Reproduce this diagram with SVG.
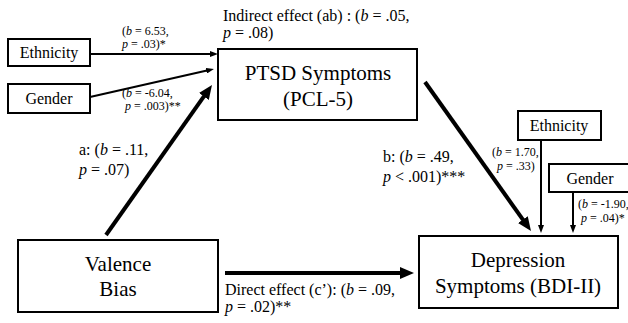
<svg xmlns="http://www.w3.org/2000/svg" width="628" height="323" viewBox="0 0 628 323" font-family="'Liberation Serif', 'Times New Roman', 'DejaVu Serif', serif">
<style>
text{font-family:'Liberation Serif','Times New Roman','DejaVu Serif',serif;fill:#000}
.box{fill:#fff;stroke:#000;stroke-width:2}
.big{font-size:21px}
.mid{font-size:16px}
.sm{font-size:12px}
.i{font-style:italic}
.thin{stroke:#000;stroke-width:2;fill:none}
.thick{stroke:#000;stroke-width:4;fill:none}
</style>
<defs>
<marker id="ah" markerUnits="userSpaceOnUse" markerWidth="8" markerHeight="6" refX="2" refY="3" orient="auto"><path d="M0,0 L8,3 L0,6 z" fill="#000"/></marker>
<marker id="ahb" markerUnits="userSpaceOnUse" markerWidth="14" markerHeight="12" refX="4" refY="6" orient="auto"><path d="M0,0 L14,6 L0,12 z" fill="#000"/></marker>
</defs>
<g id="connectors">
<line class="thin" x1="90" y1="54" x2="212" y2="54" marker-end="url(#ah)"/>
<line class="thin" x1="90" y1="97" x2="208.1" y2="70.3" marker-end="url(#ah)"/>
<line class="thick" x1="106" y1="235" x2="206.2" y2="93.2" marker-end="url(#ahb)"/>
<line class="thick" x1="425" y1="82" x2="525.2" y2="222.9" marker-end="url(#ahb)"/>
<line class="thick" x1="225" y1="273" x2="404" y2="273" marker-end="url(#ahb)"/>
<line class="thin" x1="541" y1="140" x2="541" y2="227" marker-end="url(#ah)"/>
<line class="thin" x1="573" y1="192" x2="573" y2="227" marker-end="url(#ah)"/>
</g>
<g id="labels">
<text class="sm" x="122" y="35">(<tspan class="i">b</tspan> = 6.53,</text>
<text class="sm" x="122" y="48"><tspan class="i">p</tspan> = .03)*</text>
<text class="sm" x="122" y="97">(<tspan class="i">b</tspan> = -6.04,</text>
<text class="sm" x="125" y="110"><tspan class="i">p</tspan> = .003)**</text>
<text class="mid" x="223" y="21">Indirect effect (ab) : (<tspan class="i">b</tspan> = .05,</text>
<text class="mid" x="223" y="38"><tspan class="i">p</tspan> = .08)</text>
<text class="mid" x="79" y="155">a: (<tspan class="i">b</tspan> = .11,</text>
<text class="mid" x="79" y="175"><tspan class="i">p</tspan> = .07)</text>
<text class="mid" x="383" y="162">b: (<tspan class="i">b</tspan> = .49,</text>
<text class="mid" x="383" y="182"><tspan class="i">p</tspan> &lt; .001)***</text>
<text class="mid" x="225" y="295">Direct effect (c’): (<tspan class="i">b</tspan> = .09,</text>
<text class="mid" x="225" y="312"><tspan class="i">p</tspan> = .02)**</text>
<text class="sm" x="492" y="156">(<tspan class="i">b</tspan> = 1.70,</text>
<text class="sm" x="497" y="170"><tspan class="i">p</tspan> = .33)</text>
<text class="sm" x="578" y="208">(<tspan class="i">b</tspan> = -1.90,</text>
<text class="sm" x="581" y="222"><tspan class="i">p</tspan> = .04)*</text>
</g>
<g id="ethnicity-left"><rect class="box" x="8" y="39" width="82" height="27"/><text class="mid" x="49" y="58" text-anchor="middle">Ethnicity</text></g>
<g id="gender-left"><rect class="box" x="8" y="84" width="82" height="29"/><text class="mid" x="49" y="104" text-anchor="middle">Gender</text></g>
<g id="ptsd"><rect class="box" x="218" y="49" width="199" height="71"/><text class="big" x="318" y="80" text-anchor="middle">PTSD Symptoms</text><text class="big" x="318" y="106" text-anchor="middle">(PCL-5)</text></g>
<g id="valence"><rect class="box" x="18" y="240" width="200" height="72"/><text class="big" x="118" y="271" text-anchor="middle">Valence</text><text class="big" x="118" y="296" text-anchor="middle">Bias</text></g>
<g id="depression"><rect class="box" x="419" y="236" width="199" height="72"/><text class="big" x="518" y="267" text-anchor="middle">Depression</text><text class="big" x="518" y="293" text-anchor="middle">Symptoms (BDI-II)</text></g>
<g id="ethnicity-right"><rect class="box" x="518" y="111" width="83" height="29"/><text class="mid" x="559" y="131" text-anchor="middle">Ethnicity</text></g>
<g id="gender-right"><rect class="box" x="549" y="164" width="82" height="28"/><text class="mid" x="590" y="184" text-anchor="middle">Gender</text></g>
</svg>
